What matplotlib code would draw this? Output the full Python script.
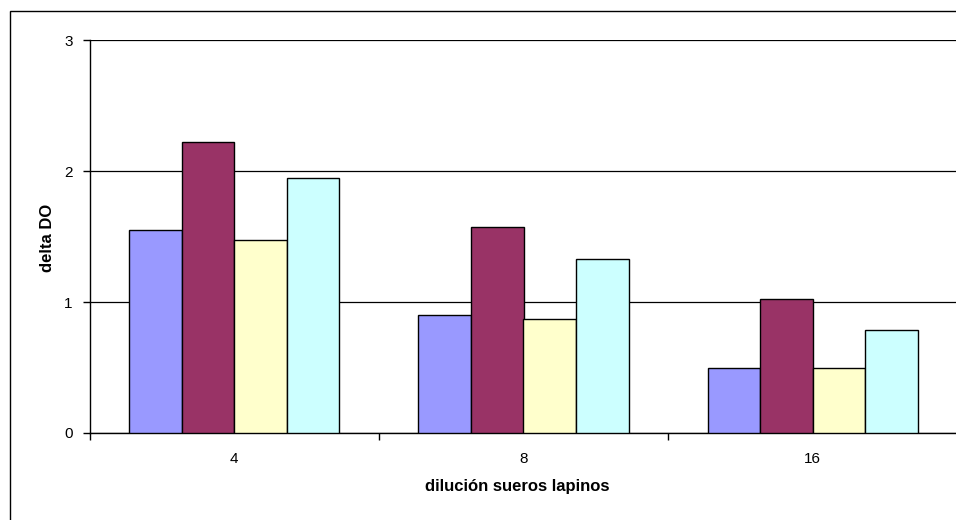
import matplotlib
matplotlib.use("Agg")
import matplotlib.pyplot as plt
from matplotlib.patches import Rectangle
import numpy as np

plt.rcParams['font.family'] = ['Liberation Sans', 'DejaVu Sans']

# Data: delta DO per rabbit serum dilution, four sera
diluciones = ["4", "8", "16"]
suero_1 = [1.55, 0.90, 0.50]
suero_2 = [2.22, 1.57, 1.02]
suero_3 = [1.47, 0.87, 0.50]
suero_4 = [1.95, 1.33, 0.79]
series = [suero_1, suero_2, suero_3, suero_4]
colores = ["#9999FF", "#993366", "#FFFFCC", "#CCFFFF"]
y_ticks = [0, 1, 2, 3]

W, H = 956, 520
fig = plt.figure(figsize=(W / 100, H / 100), dpi=100)

# Outer chart-area border
fig.patches.append(Rectangle((10 / W, -0.1), 1.1, (H - 11) / H + 0.1,
                             transform=fig.transFigure, fill=False,
                             edgecolor="black", linewidth=1.0))

left, right = 89.5, 957.5
top, bottom = 40, 433
ax = fig.add_axes([left / W, (H - bottom) / H, (right - left) / W, (bottom - top) / H])

n = len(series)
bar_w = 1 / (n + 1.5)
x = np.arange(len(diluciones))
for i, (vals, c) in enumerate(zip(series, colores)):
    offs = (i - (n - 1) / 2) * bar_w
    ax.bar(x + offs, vals, width=bar_w, color=c, edgecolor="black",
           linewidth=1.0, zorder=3)

ax.set_xlim(-0.5, len(diluciones) - 0.5)
ax.set_ylim(0, 3)
ax.set_yticks(y_ticks)
ax.set_yticklabels([str(t) for t in y_ticks], fontsize=11)
ax.yaxis.grid(True, color="black", linewidth=0.9, zorder=0)
ax.set_axisbelow(True)

# Category labels centered, tick marks at category boundaries
ax.set_xticks(np.arange(len(diluciones) + 1) - 0.5)
ax.set_xticklabels([])
ax.set_xticks(x, minor=True)
ax.set_xticklabels(diluciones, minor=True, fontsize=11)
ax.tick_params(axis="x", which="minor", length=0, pad=14)
ax.tick_params(axis="x", which="major", length=5, width=1, direction="out")
ax.tick_params(axis="y", length=5, width=1, direction="out", pad=7)

for s in ["top", "right"]:
    ax.spines[s].set_visible(False)
for s in ["left", "bottom"]:
    ax.spines[s].set_linewidth(1.0)

ax.set_ylabel("delta DO", fontsize=12, fontweight="bold")
ax.yaxis.set_label_coords(-(left - 47) / (right - left), (bottom - 238) / (bottom - top))
ax.set_xlabel("dilución sueros lapinos", fontsize=12, fontweight="bold")
ax.xaxis.set_label_coords((517 - left) / (right - left), -(487 - bottom) / (bottom - top))
ax.xaxis.label.set_verticalalignment("center")
ax.yaxis.label.set_verticalalignment("center")

fig.savefig("out.png", dpi=100)
